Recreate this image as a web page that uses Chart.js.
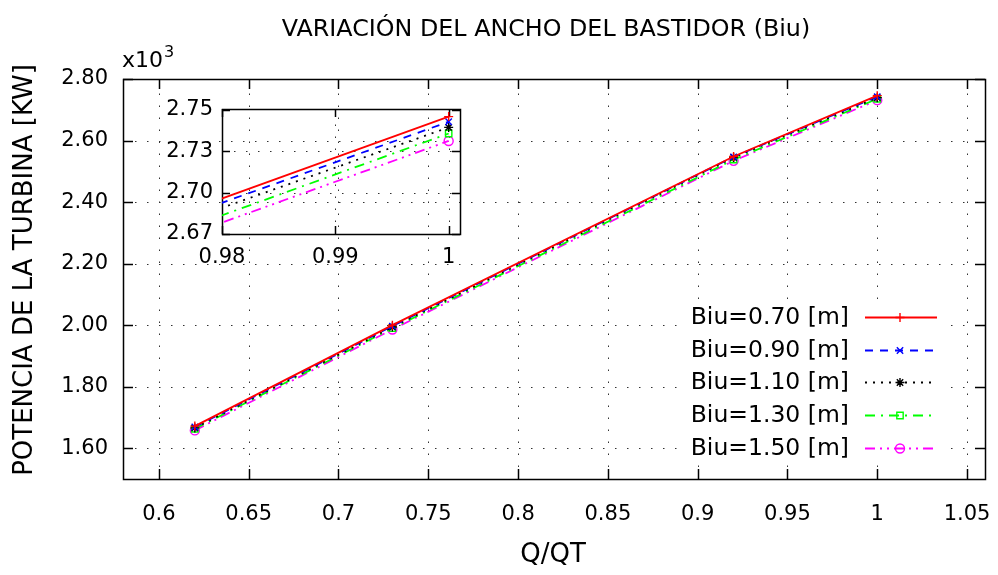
<!DOCTYPE html>
<html><head><meta charset="utf-8">
<script src="https://cdn.jsdelivr.net/npm/chart.js@4"></script>
<style>
html,body{margin:0;padding:0;background:#fff;overflow:hidden}
#wrap{position:relative;width:998px;height:575px}
canvas{position:absolute;left:0;top:0}
</style></head>
<body><div id="wrap"><canvas id="main" width="998" height="575"></canvas><canvas id="inset" width="998" height="575"></canvas></div>
<script>
// ---- data ----
const qRatio = [0.62, 0.73, 0.92, 1.0];
const biu070 = [1.672, 2.000, 2.548, 2.7459];
const biu090 = [1.669, 1.997, 2.547, 2.7428];
const biu110 = [1.666, 1.994, 2.545, 2.7394];
const biu130 = [1.663, 1.990, 2.538, 2.7357];
const biu150 = [1.658, 1.986, 2.534, 2.7312];
const seriesLabels = ['Biu=0.70 [m]', 'Biu=0.90 [m]', 'Biu=1.10 [m]', 'Biu=1.30 [m]', 'Biu=1.50 [m]'];
const xTicks = [0.6, 0.65, 0.7, 0.75, 0.8, 0.85, 0.9, 0.95, 1.0, 1.05];
const xTickLabels = ['0.6', '0.65', '0.7', '0.75', '0.8', '0.85', '0.9', '0.95', '1', '1.05'];
const yTicks = [1.6, 1.8, 2.0, 2.2, 2.4, 2.6, 2.8];
const yTickLabels = ['1.60', '1.80', '2.00', '2.20', '2.40', '2.60', '2.80'];
const insetXTicks = [0.98, 0.99, 1.0];
const insetXLabels = ['0.98', '0.99', '1'];
const insetYTicks = [2.675, 2.7, 2.725, 2.75];
const insetYLabels = ['2.67', '2.70', '2.73', '2.75'];
const titleText = 'VARIACIÓN DEL ANCHO DEL BASTIDOR (Biu)';
const xTitle = 'Q/QT';
const yTitle = 'POTENCIA DE LA TURBINA [KW]';

// ---- styles ----
const FONT = "'DejaVu Sans', Verdana, sans-serif";
Chart.defaults.font.family = FONT;
Chart.defaults.font.size = 21;
Chart.defaults.color = '#000';
const styles = [
  {color: '#ff0000', dash: [], point: 'cross'},
  {color: '#0000ff', dash: [8, 7], point: 'crossRot'},
  {color: '#000000', dash: [2, 6], point: 'star'},
  {color: '#00ff00', dash: [10, 6, 2, 6], point: 'rect'},
  {color: '#ff00ff', dash: [10, 5, 2, 5, 2, 5], point: 'circle'}
];
const seriesData = [biu070, biu090, biu110, biu130, biu150];

function makeDatasets() {
  return seriesData.map((vals, i) => ({
    label: seriesLabels[i],
    data: qRatio.map((q, j) => ({x: q, y: vals[j]})),
    borderColor: styles[i].color,
    backgroundColor: 'rgba(0,0,0,0)',
    borderDash: styles[i].dash,
    borderWidth: 1.8,
    pointStyle: styles[i].point,
    pointRadius: 4.5,
    pointBorderWidth: 1.4,
    pointBorderColor: styles[i].color,
    pointBackgroundColor: 'rgba(0,0,0,0)',
    tension: 0
  }));
}

function framePlugin(tickLen) {
  return {
    id: 'frame',
    beforeDatasetsDraw(chart) {
      const {ctx, chartArea: a, scales: {x, y}} = chart;
      ctx.save();
      ctx.strokeStyle = '#333';
      ctx.lineWidth = 1;
      ctx.setLineDash([1.5, 10.5]);
      x.ticks.forEach(t => {
        const px = Math.round(x.getPixelForValue(t.value)) + 0.5;
        if (px < a.left + 2 || px > a.right - 2) return;
        ctx.beginPath(); ctx.moveTo(px, a.bottom); ctx.lineTo(px, a.top); ctx.stroke();
      });
      y.ticks.forEach(t => {
        const py = Math.round(y.getPixelForValue(t.value)) + 0.5;
        if (py < a.top + 2 || py > a.bottom - 2) return;
        ctx.beginPath(); ctx.moveTo(a.left, py); ctx.lineTo(a.right, py); ctx.stroke();
      });
      ctx.setLineDash([]);
      ctx.strokeStyle = '#000';
      ctx.lineWidth = 1.5;
      x.ticks.forEach(t => {
        const px = Math.round(x.getPixelForValue(t.value)) + 0.5;
        ctx.beginPath();
        ctx.moveTo(px, a.bottom); ctx.lineTo(px, a.bottom - tickLen);
        ctx.moveTo(px, a.top); ctx.lineTo(px, a.top + tickLen);
        ctx.stroke();
      });
      y.ticks.forEach(t => {
        const py = Math.round(y.getPixelForValue(t.value)) + 0.5;
        ctx.beginPath();
        ctx.moveTo(a.left, py); ctx.lineTo(a.left + tickLen, py);
        ctx.moveTo(a.right, py); ctx.lineTo(a.right - tickLen, py);
        ctx.stroke();
      });
      ctx.strokeRect(Math.round(a.left) + 0.5, Math.round(a.top) + 0.5,
        Math.round(a.right - a.left), Math.round(a.bottom - a.top));
      ctx.restore();
    }
  };
}

const drawPoint = (Chart.helpers && Chart.helpers.drawPoint) ? Chart.helpers.drawPoint : null;

const decorPlugin = {
  id: 'decor',
  beforeDatasetsDraw(chart) {
    const ctx = chart.ctx;
    ctx.save();
    ctx.fillStyle = '#fff';
    ctx.fillRect(686, 300, 258, 165);
    ctx.restore();
  },
  afterDraw(chart) {
    const ctx = chart.ctx;
    ctx.save();
    ctx.fillStyle = '#000';
    ctx.textAlign = 'center';
    ctx.textBaseline = 'middle';
    // title
    ctx.font = '23.8px ' + FONT;
    ctx.fillText(titleText, 546, 30);
    // axis titles
    ctx.font = '26px ' + FONT;
    ctx.fillText(xTitle, 553, 555);
    ctx.save();
    ctx.translate(25, 270);
    ctx.rotate(-Math.PI / 2);
    ctx.fillText(yTitle, 0, 0);
    ctx.restore();
    // multiplier
    ctx.textAlign = 'left';
    ctx.textBaseline = 'alphabetic';
    ctx.font = '22px ' + FONT;
    ctx.fillText('x10', 122, 67);
    const w = ctx.measureText('x10').width;
    ctx.font = '16px ' + FONT;
    ctx.fillText('3', 122 + w + 1, 57);
    // legend
    ctx.font = '23.5px ' + FONT;
    ctx.textAlign = 'right';
    ctx.textBaseline = 'middle';
    const rowY0 = 317, rowDy = 32.7;
    chart.data.datasets.forEach((ds, i) => {
      const yy = Math.round(rowY0 + i * rowDy) + 0.5;
      ctx.fillStyle = '#000';
      ctx.fillText(ds.label, 849, yy);
      ctx.save();
      ctx.strokeStyle = ds.borderColor;
      ctx.lineWidth = ds.borderWidth;
      ctx.setLineDash(ds.borderDash);
      ctx.beginPath(); ctx.moveTo(865, yy); ctx.lineTo(937, yy); ctx.stroke();
      ctx.setLineDash([]);
      ctx.lineWidth = ds.pointBorderWidth;
      ctx.fillStyle = 'rgba(0,0,0,0)';
      if (drawPoint) drawPoint(ctx, {pointStyle: ds.pointStyle, radius: ds.pointRadius, borderWidth: ds.pointBorderWidth, rotation: 0}, 900, yy);
      ctx.restore();
    });
    ctx.restore();
  }
};

function noPad(s) { s.paddingLeft = 0; s.paddingRight = 0; s.paddingTop = 0; s.paddingBottom = 0; }

new Chart(document.getElementById('main'), {
  type: 'line',
  data: {datasets: makeDatasets()},
  options: {
    responsive: false,
    animation: false,
    devicePixelRatio: 1,
    layout: {padding: {left: 0, right: 13, top: 79, bottom: 0}},
    plugins: {legend: {display: false}, title: {display: false}, tooltip: {enabled: false}},
    scales: {
      x: {
        type: 'linear', min: 0.58, max: 1.06,
        grid: {display: false, drawTicks: false},
        border: {display: false},
        afterBuildTicks: s => { s.ticks = xTicks.map(v => ({value: v})); },
        afterFit: s => { s.height = 96; noPad(s); },
        ticks: {padding: 23, maxRotation: 0, autoSkip: false, callback: (v, i) => xTickLabels[i]}
      },
      y: {
        type: 'linear', min: 1.5, max: 2.8,
        grid: {display: false, drawTicks: false},
        border: {display: false},
        afterBuildTicks: s => { s.ticks = yTicks.map(v => ({value: v})); },
        afterFit: s => { s.width = 123; noPad(s); },
        ticks: {padding: 15, autoSkip: false, callback: (v, i) => yTickLabels[i]}
      }
    }
  },
  plugins: [framePlugin(10), decorPlugin]
});

new Chart(document.getElementById('inset'), {
  type: 'line',
  data: {datasets: makeDatasets()},
  options: {
    responsive: false,
    animation: false,
    devicePixelRatio: 1,
    events: [],
    layout: {padding: {left: 100, right: 538, top: 109, bottom: 301}},
    plugins: {legend: {display: false}, title: {display: false}, tooltip: {enabled: false}},
    scales: {
      x: {
        type: 'linear', min: 0.98, max: 1.001,
        grid: {display: false, drawTicks: false},
        border: {display: false},
        afterBuildTicks: s => { s.ticks = insetXTicks.map(v => ({value: v})); },
        afterFit: s => { s.height = 40; noPad(s); },
        ticks: {padding: 11, maxRotation: 0, autoSkip: false, callback: (v, i) => insetXLabels[i]}
      },
      y: {
        type: 'linear', min: 2.675, max: 2.7505,
        grid: {display: false, drawTicks: false},
        border: {display: false},
        afterBuildTicks: s => { s.ticks = insetYTicks.map(v => ({value: v})); },
        afterFit: s => { s.width = 122; noPad(s); },
        ticks: {padding: 9, autoSkip: false, callback: (v, i) => insetYLabels[i]}
      }
    }
  },
  plugins: [framePlugin(8)]
});
</script>
</body></html>
